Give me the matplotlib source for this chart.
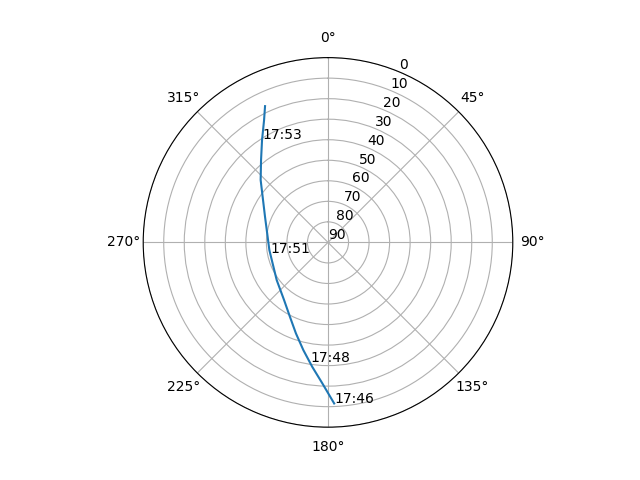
import numpy as np
import matplotlib
matplotlib.use("Agg")
import matplotlib.pyplot as plt

# Satellite pass track: azimuth (deg), elevation (deg)
azimuth = [177.8, 182.3, 187.2, 192.9, 199.4, 207.1, 217.3, 233.7, 262.5,
           292.1, 312.8, 320.9, 327.2, 332.4, 335.2]
elevation = [11.5, 21.3, 28.9, 36.2, 43.0, 49.3, 54.7, 59.0, 61.2,
             56.9, 45.3, 38.3, 30.7, 22.8, 16.9]

label_times = ["17:46", "17:48", "17:51", "17:53"]
label_az = [177.8, 188.2, 259.8, 327.6]
label_el = [11.5, 31.2, 61.3, 30.6]

fig = plt.figure(figsize=(6.4, 4.8), dpi=100)
ax = fig.add_subplot(111, projection="polar")
ax.set_theta_zero_location("N")
ax.set_theta_direction(-1)

ax.plot(np.radians(azimuth), elevation)
for t, a, e in zip(label_times, label_az, label_el):
    ax.text(np.radians(a), e, t)

ax.set_rlim(90, 0)
ax.set_yticks(range(0, 91, 10))

fig.savefig("out.png", dpi=100)
